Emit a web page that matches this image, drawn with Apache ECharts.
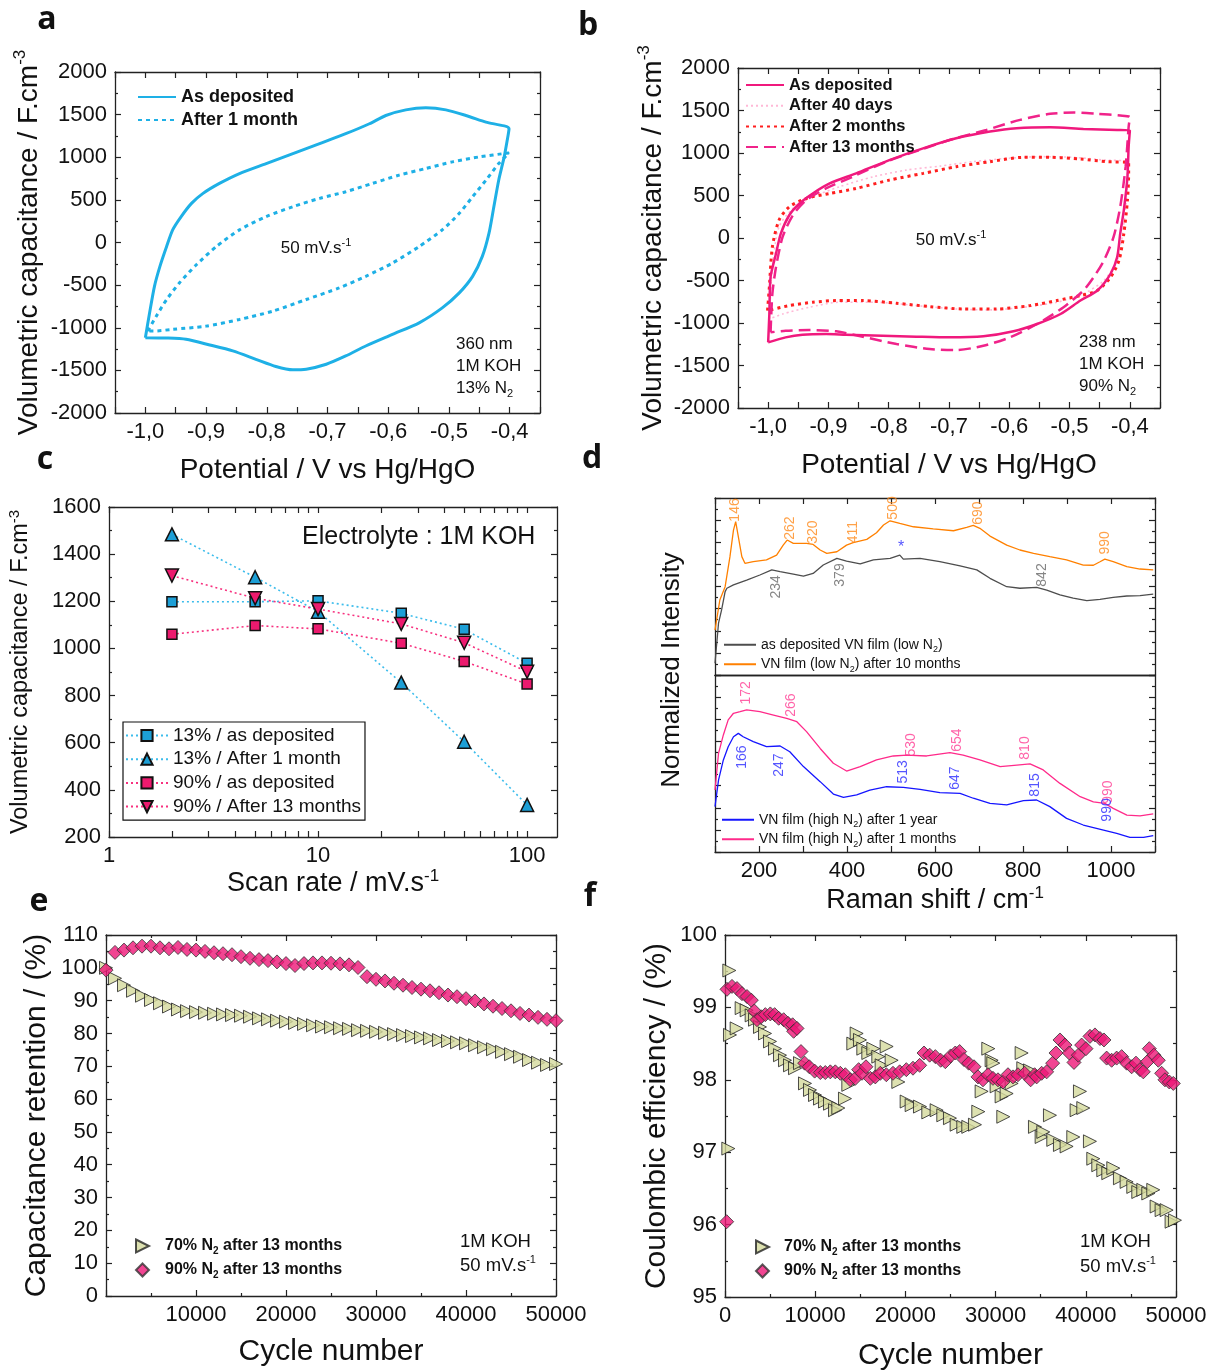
<!DOCTYPE html>
<html>
<head>
<meta charset="utf-8">
<script src="https://cdn.jsdelivr.net/npm/echarts@6.0.0/dist/echarts.min.js"></script>
<style>
  html, body { margin: 0; padding: 0; background: #fff; }
  #main { width: 1210px; height: 1372px; }
</style>
</head>
<body>
<div id="main"></div>
<script>
// ---- panel a : CV, 13% N2 (potential V, capacitance F/cm3)
var cvA_asDeposited = [[-1.0,-1117],[-0.993,-825],[-0.985,-514],[-0.976,-280],[-0.965,-47],[-0.955,148],[-0.941,304],[-0.924,459],[-0.905,576],[-0.878,693],[-0.845,809],[-0.801,926],[-0.757,1043],[-0.713,1160],[-0.670,1276],[-0.631,1393],[-0.604,1490],[-0.571,1556],[-0.538,1580],[-0.505,1556],[-0.472,1490],[-0.439,1412],[-0.401,1335],[-0.404,1198],[-0.409,1004],[-0.418,731],[-0.426,420],[-0.434,109],[-0.445,-163],[-0.461,-397],[-0.483,-591],[-0.511,-767],[-0.549,-942],[-0.593,-1078],[-0.637,-1214],[-0.670,-1331],[-0.702,-1428],[-0.735,-1486],[-0.757,-1494],[-0.785,-1455],[-0.818,-1370],[-0.856,-1272],[-0.894,-1202],[-0.933,-1136],[-0.965,-1121],[-1.0,-1117]];
var cvA_1month = [[-0.996,-1039],[-0.982,-864],[-0.965,-669],[-0.944,-475],[-0.916,-261],[-0.883,-47],[-0.845,148],[-0.801,304],[-0.757,420],[-0.713,518],[-0.670,595],[-0.626,693],[-0.582,790],[-0.538,868],[-0.494,946],[-0.450,1004],[-0.401,1051],[-0.418,926],[-0.439,731],[-0.461,537],[-0.483,342],[-0.511,148],[-0.549,-47],[-0.593,-241],[-0.637,-397],[-0.681,-533],[-0.735,-669],[-0.790,-805],[-0.845,-903],[-0.900,-981],[-0.955,-1019],[-0.987,-1039],[-0.996,-1039]];

// ---- panel b : CV, 90% N2
var cvB_asDeposited = [[-1.0,-1228],[-0.998,-894],[-0.996,-461],[-0.987,-185],[-0.979,51],[-0.965,268],[-0.948,406],[-0.926,524],[-0.898,642],[-0.854,760],[-0.799,917],[-0.743,1055],[-0.688,1173],[-0.632,1252],[-0.588,1291],[-0.532,1303],[-0.477,1283],[-0.421,1272],[-0.400,1264],[-0.402,1075],[-0.404,720],[-0.410,327],[-0.416,51],[-0.421,-224],[-0.432,-421],[-0.454,-618],[-0.482,-736],[-0.515,-894],[-0.554,-1012],[-0.593,-1098],[-0.643,-1157],[-0.699,-1169],[-0.754,-1161],[-0.810,-1150],[-0.871,-1138],[-0.904,-1130],[-0.943,-1138],[-0.971,-1169],[-1.0,-1228]];
var cvB_40days = [[-0.998,-953],[-0.993,-343],[-0.982,130],[-0.959,346],[-0.926,484],[-0.882,602],[-0.826,720],[-0.771,799],[-0.715,846],[-0.660,898],[-0.604,937],[-0.549,957],[-0.493,949],[-0.443,917],[-0.404,898],[-0.405,524],[-0.412,51],[-0.421,-264],[-0.443,-500],[-0.477,-657],[-0.521,-756],[-0.576,-815],[-0.632,-846],[-0.688,-835],[-0.754,-795],[-0.821,-756],[-0.882,-756],[-0.932,-815],[-0.976,-894],[-0.998,-953]];
var cvB_2months = [[-1.001,-854],[-0.998,-579],[-0.993,-106],[-0.982,209],[-0.965,366],[-0.937,465],[-0.898,524],[-0.854,583],[-0.799,681],[-0.743,760],[-0.688,839],[-0.632,898],[-0.577,949],[-0.532,949],[-0.482,929],[-0.438,898],[-0.402,886],[-0.402,760],[-0.404,445],[-0.410,51],[-0.418,-264],[-0.432,-461],[-0.454,-618],[-0.482,-677],[-0.521,-736],[-0.565,-795],[-0.621,-835],[-0.676,-835],[-0.732,-807],[-0.787,-768],[-0.843,-736],[-0.887,-736],[-0.926,-756],[-0.965,-795],[-1.001,-854]];
var cvB_13months = [[-0.996,-1110],[-0.993,-657],[-0.987,-343],[-0.976,12],[-0.959,268],[-0.937,445],[-0.904,583],[-0.860,720],[-0.804,898],[-0.749,1035],[-0.693,1165],[-0.638,1272],[-0.582,1390],[-0.532,1461],[-0.493,1476],[-0.454,1461],[-0.416,1441],[-0.400,1421],[-0.402,1311],[-0.407,839],[-0.416,366],[-0.427,12],[-0.443,-264],[-0.460,-461],[-0.477,-618],[-0.510,-815],[-0.554,-1012],[-0.599,-1169],[-0.643,-1268],[-0.688,-1319],[-0.732,-1307],[-0.787,-1248],[-0.843,-1161],[-0.887,-1098],[-0.932,-1083],[-0.971,-1091],[-0.996,-1110]];

// ---- panel c : capacitance vs scan rate
var scanRates = [2, 5, 10, 25, 50, 100];
var cap13Deposited = [1198, 1198, 1202, 1149, 1081, 937];
var cap13Month = [1484, 1302, 1156, 855, 604, 336];
var cap90Deposited = [1060, 1097, 1083, 1022, 945, 849];
var cap90Months = [1309, 1213, 1167, 1104, 1024, 901];

// ---- panel d : Raman (shift cm-1, normalized intensity)
var ramanGray = [[100,0.53],[108,2.34],[115,2.94],[123,3.77],[127,3.92],[142,4.07],[172,4.29],[202,4.52],[229,4.75],[248,4.67],[278,4.56],[301,4.47],[323,4.59],[346,4.97],[377,5.27],[399,5.15],[430,5.02],[460,5.20],[498,5.27],[520,5.42],[528,5.24],[566,5.27],[611,5.12],[657,4.93],[695,4.75],[725,4.37],[763,3.99],[793,3.92],[831,3.96],[854,3.84],[884,3.62],[914,3.47],[945,3.36],[975,3.42],[1005,3.51],[1036,3.57],[1066,3.59],[1096,3.66]];
var ramanOrange = [[100,2.03],[111,3.39],[123,3.99],[134,5.35],[142,6.55],[147,6.93],[153,6.25],[161,5.35],[168,5.05],[187,5.12],[217,5.20],[240,5.42],[255,5.87],[264,6.10],[278,5.95],[308,5.95],[323,5.90],[339,5.65],[354,5.50],[377,5.57],[399,5.87],[414,5.98],[445,6.13],[467,6.43],[483,6.78],[498,6.97],[520,6.85],[551,6.70],[596,6.60],[642,6.52],[672,6.67],[687,6.76],[702,6.63],[725,6.28],[763,5.87],[793,5.65],[824,5.50],[861,5.35],[899,5.20],[937,4.97],[960,4.96],[975,5.12],[986,5.24],[1005,5.12],[1036,4.90],[1066,4.79],[1096,4.75]];
var ramanBlue = [[100,2.05],[108,3.25],[119,4.16],[130,4.76],[142,5.21],[153,5.36],[164,5.21],[187,4.99],[217,4.76],[248,4.79],[270,4.53],[301,3.86],[339,3.18],[369,2.62],[392,2.47],[422,2.58],[452,2.80],[490,2.95],[528,2.92],[566,2.83],[611,2.68],[657,2.65],[687,2.43],[725,2.20],[763,2.13],[801,2.32],[831,2.35],[861,2.05],[899,1.52],[937,1.22],[983,0.99],[1013,0.84],[1043,0.66],[1074,0.66],[1096,0.74]];
var ramanPink = [[100,2.80],[108,4.46],[119,5.29],[130,5.97],[142,6.27],[157,6.34],[172,6.42],[202,6.34],[233,6.19],[263,6.04],[286,5.89],[308,5.44],[339,4.68],[369,4.01],[399,3.66],[430,3.86],[467,4.16],[505,4.34],[536,4.38],[581,4.34],[634,4.49],[664,4.38],[702,4.16],[748,3.86],[786,3.93],[816,3.98],[846,3.71],[884,3.10],[930,2.50],[960,2.27],[986,2.20],[1005,1.97],[1036,1.67],[1066,1.63],[1096,1.72]];
var peaksOrange = [['146',145,7.46],['262',270,6.64],['320',323,6.46],['411',414,6.46],['500',505,7.55],['690',698,7.32],['990',986,5.97]];
var peaksGray = [['234',239,3.98],['379',384,4.52],['842',843,4.52]];
var peaksPink = [['172',170,7.19],['266',273,6.64],['530',545,4.84],['654',650,5.06],['810',805,4.70],['990',993,2.71]];
var peaksBlue = [['166',161,4.29],['247',245,3.93],['513',527,3.62],['647',645,3.34],['815',827,3.03],['990',991,1.90]];

// ---- panel e : capacitance retention (%)
var retentionCycles = [0,1000,2000,3000,4000,5000,6000,7000,8000,9000,10000,11000,12000,13000,14000,15000,16000,17000,18000,19000,20000,21000,22000,23000,24000,25000,26000,27000,28000,29000,30000,31000,32000,33000,34000,35000,36000,37000,38000,39000,40000,41000,42000,43000,44000,45000,46000,47000,48000,49000,50000];
var retention70 = [100.0,96.8,94.7,93.0,91.5,90.2,89.2,88.2,87.3,86.8,86.5,86.3,86.0,85.8,85.6,85.4,85.1,84.6,84.3,83.9,83.6,83.2,82.9,82.5,82.1,81.9,81.6,81.4,81.0,80.8,80.5,80.2,79.8,79.5,79.2,78.8,78.5,78.0,77.7,77.3,77.0,76.4,75.8,75.2,74.4,73.7,72.9,71.9,71.1,70.4,70.7];
var retention90 = [99.3,104.7,105.4,106.1,106.6,106.6,106.1,105.8,106.2,105.6,105.4,105.0,104.6,104.3,104.0,103.4,102.9,102.5,102.2,101.8,101.3,100.7,101.3,101.5,101.5,101.4,101.2,100.9,100.1,97.3,96.5,96.0,95.3,94.7,94.0,93.5,93.0,92.4,91.7,91.2,90.6,89.9,89.0,88.3,87.6,86.9,86.1,85.6,84.9,84.3,83.9];

// ---- panel f : coulombic efficiency (%) [cycle, value]
var coulombic70 = [[369,97.05],[480,99.51],[554,98.62],[1293,98.71],[1847,98.99],[2401,98.96],[2956,98.89],[3325,98.83],[3880,98.73],[4434,98.64],[4988,98.53],[5543,98.43],[6097,98.34],[6651,98.27],[7206,98.20],[7760,98.16],[8314,98.23],[8868,97.95],[9423,97.86],[9977,97.79],[10531,97.74],[11085,97.70],[11640,97.67],[12194,97.58],[12563,97.61],[13302,97.74],[13672,97.93],[14226,98.50],[14595,98.64],[14965,98.55],[15334,98.43],[15889,98.37],[16443,98.43],[16997,98.32],[17367,98.20],[17921,98.46],[18476,98.27],[19215,97.97],[20138,97.70],[20692,97.65],[21616,97.63],[22540,97.55],[23463,97.58],[24202,97.51],[24941,97.47],[25680,97.38],[26419,97.35],[26973,97.35],[27712,97.38],[28082,97.56],[28452,97.84],[29191,98.43],[29560,98.27],[29745,98.23],[30115,97.91],[30669,97.77],[30854,97.49],[31223,97.81],[31778,97.95],[32886,98.37],[33071,98.16],[33810,98.13],[34364,97.35],[35103,97.21],[35287,97.28],[36026,97.51],[36395,97.17],[37134,97.10],[37873,97.08],[38613,97.21],[38982,97.58],[39352,97.84],[39721,97.61],[40460,97.15],[40830,96.91],[41385,96.82],[41939,96.75],[42493,96.71],[43047,96.78],[43786,96.64],[44525,96.59],[45264,96.52],[45819,96.45],[46373,96.48],[46927,96.43],[47481,96.48],[47851,96.25],[48405,96.20],[48959,96.20],[49513,96.04],[49883,96.06]];
var coulombic90 = [[185,96.04],[221,99.25],[775,99.29],[1330,99.26],[1884,99.19],[2438,99.15],[2918,99.10],[3251,98.95],[3547,98.83],[4027,98.87],[4470,98.90],[5025,98.91],[5505,98.90],[5949,98.85],[6503,98.83],[6983,98.78],[7500,98.76],[7611,98.67],[7981,98.71],[8424,98.39],[8831,98.23],[9348,98.18],[9939,98.12],[10567,98.10],[11121,98.10],[11675,98.11],[12230,98.11],[12784,98.09],[13339,98.07],[13893,98.00],[14447,98.02],[14817,98.14],[15187,98.09],[15630,98.18],[16110,98.02],[16664,98.04],[17219,98.09],[17886,98.07],[18625,98.09],[19364,98.11],[20103,98.14],[20841,98.16],[21581,98.20],[22061,98.37],[22689,98.34],[23318,98.32],[23909,98.27],[24426,98.25],[25017,98.33],[25535,98.37],[26015,98.39],[26495,98.28],[27013,98.23],[27604,98.18],[28047,98.04],[28602,98.00],[29156,98.07],[29709,98.02],[30264,98.00],[30816,97.97],[31372,98.07],[31927,98.04],[32481,98.07],[33220,98.09],[33885,98.00],[34328,98.07],[34551,98.04],[35105,98.09],[35660,98.11],[36325,98.23],[36694,98.37],[37138,98.55],[37692,98.48],[38172,98.37],[38690,98.24],[39170,98.34],[39539,98.48],[40020,98.43],[40463,98.60],[41017,98.62],[41572,98.57],[42015,98.55],[42311,98.30],[42866,98.27],[43420,98.30],[43973,98.32],[44528,98.23],[45083,98.18],[45562,98.23],[46006,98.14],[46375,98.11],[46819,98.25],[47040,98.43],[47557,98.34],[48038,98.27],[48407,98.09],[48777,98.00],[49257,97.97],[49700,97.95]];

var FONT = 'Arial';
var AX = '#222';
var SUP = { fontSize: 17, verticalAlign: 'top', fontFamily: FONT, color: '#111' };
var RIGHT_TRI = 'path://M0,0L12,6L0,12Z';

function merge(a, b) {
  var out = {};
  [a, b].forEach(function (src) {
    Object.keys(src || {}).forEach(function (k) {
      var v = src[k];
      if (v && typeof v === 'object' && !Array.isArray(v) && out[k] && typeof out[k] === 'object' && !Array.isArray(out[k])) {
        out[k] = merge(out[k], v);
      } else {
        out[k] = v;
      }
    });
  });
  return out;
}

var baseAxis = {
  type: 'value',
  nameLocation: 'middle',
  axisLine: { show: true, onZero: false, lineStyle: { color: AX, width: 1.3 } },
  axisTick: { show: true, inside: true, length: 6, lineStyle: { color: AX, width: 1.2 } },
  minorTick: { show: false, splitNumber: 2, length: 3, lineStyle: { color: AX, width: 1.2 } },
  splitLine: { show: false },
  axisLabel: { show: true, fontSize: 22, color: '#111', fontFamily: FONT, margin: 8,
    formatter: function (v) { return String(v); } },
  nameTextStyle: { fontSize: 28, lineHeight: 34, color: '#111', fontFamily: FONT, rich: { sup: SUP } }
};
var xAxes = [], yAxes = [];
function addX(o) { xAxes.push(merge(baseAxis, o)); return xAxes.length - 1; }
function addY(o) { yAxes.push(merge(baseAxis, o)); return yAxes.length - 1; }
// an axis pair on both sides of a grid (ticks mirrored, labels only on the main side)
function frameX(gi, o) {
  var i = addX(merge(o, { gridIndex: gi }));
  addX(merge(o, { gridIndex: gi, position: 'top', name: '', axisLabel: { show: false } }));
  return i;
}
function frameY(gi, o) {
  var i = addY(merge(o, { gridIndex: gi }));
  addY(merge(o, { gridIndex: gi, position: 'right', name: '', axisLabel: { show: false } }));
  return i;
}

function commaFmt(v) {
  var k = Math.round(v * 100);
  return k % 10 === 0 ? (k / 100).toFixed(1).replace('.', ',') : '';
}

var grids = [
  { left: 115, top: 72, width: 425, height: 341 },   // a
  { left: 738, top: 68, width: 422, height: 340 },   // b
  { left: 109, top: 507, width: 448, height: 330 },  // c
  { left: 715, top: 498, width: 440, height: 177 },  // d upper
  { left: 715, top: 675, width: 440, height: 177 },  // d lower
  { left: 106, top: 935, width: 450, height: 361 },  // e
  { left: 725, top: 935, width: 451, height: 362 }   // f
].map(function (g) { g.outerBoundsMode = 'none'; g.containLabel = false; return g; });

// a
var cvX = { min: -1.05, max: -0.35, interval: 0.05, axisLabel: { formatter: commaFmt } };
var cvY = { min: -2000, max: 2000, interval: 500, minorTick: { show: true } };
var aX = frameX(0, merge(cvX, { name: 'Potential / V vs Hg/HgO', nameGap: 40 }));
var aY = frameY(0, merge(cvY, { name: 'Volumetric capacitance / F.cm{sup|-3}', nameGap: 69, nameRotate: 90 }));
// b
var bX = frameX(1, merge(cvX, { name: 'Potential / V vs Hg/HgO', nameGap: 40 }));
var bY = frameY(1, merge(cvY, { name: 'Volumetric capacitance / F.cm{sup|-3}', nameGap: 64, nameRotate: 90 }));
// c
var cX = frameX(2, {
  type: 'log', logBase: 10, min: 1, max: 139,
  axisTick: { customValues: [1,2,3,4,5,6,7,8,9,10,20,30,40,50,60,70,80,90,100] },
  axisLabel: { customValues: [1, 10, 100] },
  name: 'Scan rate / mV.s{sup|-1}', nameGap: 24,
  nameTextStyle: { fontSize: 27, lineHeight: 32 }
});
var cY = frameY(2, {
  min: 200, max: 1600, interval: 200, minorTick: { show: true },
  name: 'Volumetric capacitance / F.cm{sup|-3}', nameGap: 74, nameRotate: 90,
  nameTextStyle: { fontSize: 23.5, lineHeight: 28, rich: { sup: { fontSize: 15 } } }
});
// d
var ramanX = { min: 100, max: 1100, interval: 100,
  axisLabel: { formatter: function (v) { var r = Math.round(v); return r % 200 === 0 ? String(r) : ''; } } };
var ramanY = { min: 0, max: 8, interval: 1, minorTick: { show: true }, axisLabel: { show: false } };
var dUX = addX(merge(ramanX, { gridIndex: 3, axisTick: { show: false }, axisLabel: { show: false } }));
addX(merge(ramanX, { gridIndex: 3, position: 'top', axisLabel: { show: false } }));
var dUY = frameY(3, ramanY);
var dLX = addX(merge(ramanX, { gridIndex: 4, name: 'Raman shift / cm{sup|-1}', nameGap: 33, nameTextStyle: { fontSize: 27, lineHeight: 32 } }));
addX(merge(ramanX, { gridIndex: 4, position: 'top', axisTick: { show: false }, axisLabel: { show: false } }));
var dLY = frameY(4, ramanY);
// e
var eX = frameX(5, {
  min: 0, max: 50000, interval: 10000, minorTick: { show: true },
  axisLabel: { formatter: function (v) { return v === 0 ? '' : String(v); } },
  name: 'Cycle number', nameGap: 38, nameTextStyle: { fontSize: 30, lineHeight: 36 }
});
var eY = frameY(5, {
  min: 0, max: 110, interval: 10, minorTick: { show: true },
  name: 'Capacitance retention / (%)', nameGap: 51, nameRotate: 90,
  nameTextStyle: { fontSize: 30, lineHeight: 36 }
});
// f
var fX = frameX(6, {
  min: 0, max: 50000, interval: 10000, minorTick: { show: true },
  name: 'Cycle number', nameGap: 41, nameTextStyle: { fontSize: 30, lineHeight: 36 }
});
var fY = frameY(6, {
  min: 95, max: 100, interval: 1, minorTick: { show: true },
  name: 'Coulombic efficiency / (%)', nameGap: 50, nameRotate: 90,
  nameTextStyle: { fontSize: 30, lineHeight: 36 }
});

function cvLine(name, data, xi, yi, color, type, width) {
  return { name: name, type: 'line', data: data, xAxisIndex: xi, yAxisIndex: yi,
    symbol: 'none', smooth: 0.25, lineStyle: { color: color, width: width, type: type },
    itemStyle: { color: color } };
}
function pairs(xs, ys) { return xs.map(function (x, i) { return [x, ys[i]]; }); }
function rateLine(name, ys, lineColor, fill, symbol, rot) {
  return { name: name, type: 'line', data: pairs(scanRates, ys), xAxisIndex: cX, yAxisIndex: cY,
    symbol: symbol, symbolSize: symbol === 'rect' ? 10 : 13, symbolRotate: rot || 0,
    lineStyle: { color: lineColor, width: 1.6, type: [2, 3] },
    itemStyle: { color: fill, borderColor: '#111', borderWidth: 1.5 }, z: 3 };
}
function spectrum(name, data, xi, yi, color) {
  return { name: name, type: 'line', data: data, xAxisIndex: xi, yAxisIndex: yi,
    symbol: 'none', lineStyle: { color: color, width: 1.3 }, itemStyle: { color: color } };
}
function peakLabels(list, xi, yi, color) {
  return { type: 'scatter', xAxisIndex: xi, yAxisIndex: yi, symbolSize: 1, silent: true, z: 5, clip: false,
    itemStyle: { color: 'rgba(0,0,0,0)' },
    label: { show: true, position: 'inside', rotate: 90, formatter: '{b}', fontSize: 14, color: color, fontFamily: FONT },
    data: list.map(function (p) { return { name: p[0], value: [p[1], p[2]] }; }) };
}
function cycleScatter(name, data, xi, yi, kind) {
  var tri = kind === 'tri';
  return { name: name, type: 'scatter', data: data, xAxisIndex: xi, yAxisIndex: yi,
    symbol: tri ? 'triangle' : 'diamond', symbolRotate: tri ? -90 : 0, symbolSize: tri ? 13 : 14,
    itemStyle: tri ? { color: '#d5d99c', borderColor: '#222', borderWidth: 1 }
                   : { color: '#ee1677', borderColor: '#333', borderWidth: 1 } };
}

var NAMES = {
  aDep: 'As deposited', aMonth: 'After 1 month',
  bDep: 'As deposited', b40: 'After 40 days', b2m: 'After 2 months', b13m: 'After 13 months',
  c13d: '13% / as deposited', c13m: '13% / After 1 month', c90d: '90% / as deposited', c90m: '90% / After 13 months',
  dGray: 'as deposited VN film (low N{s|2})', dOrange: 'VN film (low N{s|2}) after 10 months',
  dBlue: 'VN film (high N{s|2}) after 1 year', dPink: 'VN film (high N{s|2}) after 1 months',
  e70: '70% N{s|2} after 13 months', e90: '90% N{s|2} after 13 months',
  f70: '70% N{s|2} after 13 months', f90: '90% N{s|2} after 13 months'
};
function fmt(n) { return NAMES[n]; }

var series = [
  cvLine('aMonth', cvA_1month, aX, aY, '#1eb0e6', [4, 4], 3),
  cvLine('aDep', cvA_asDeposited, aX, aY, '#1eb0e6', 'solid', 3),
  cvLine('b40', cvB_40days, bX, bY, '#ffb8d6', [2, 3], 1.6),
  cvLine('b2m', cvB_2months, bX, bY, '#ff1f1f', [3, 4], 3),
  cvLine('b13m', cvB_13months, bX, bY, '#f0238a', [12, 6], 2.5),
  cvLine('bDep', cvB_asDeposited, bX, bY, '#f0197d', 'solid', 2.5),
  rateLine('c13d', cap13Deposited, '#3dbdec', '#1d9fd6', 'rect'),
  rateLine('c13m', cap13Month, '#3dbdec', '#1d9fd6', 'triangle'),
  rateLine('c90d', cap90Deposited, '#f7317f', '#ec1a6e', 'rect'),
  rateLine('c90m', cap90Months, '#f7317f', '#ec1a6e', 'triangle', 180),
  spectrum('dGray', ramanGray, dUX, dUY, '#4d4d4d'),
  spectrum('dOrange', ramanOrange, dUX, dUY, '#ff8000'),
  spectrum('dBlue', ramanBlue, dLX, dLY, '#1515ff'),
  spectrum('dPink', ramanPink, dLX, dLY, '#ff2a8a'),
  peakLabels(peaksOrange, dUX, dUY, '#ff8a1a'),
  peakLabels(peaksGray, dUX, dUY, '#666666'),
  peakLabels(peaksPink, dLX, dLY, '#ff3d94'),
  peakLabels(peaksBlue, dLX, dLY, '#2a2aff'),
  { type: 'scatter', xAxisIndex: dUX, yAxisIndex: dUY, symbolSize: 1, silent: true, z: 5,
    itemStyle: { color: 'rgba(0,0,0,0)' },
    label: { show: true, position: 'inside', formatter: '*', fontSize: 16, color: '#2a2aff', fontFamily: FONT },
    data: [[523, 5.78]] },
  cycleScatter('e70', pairs(retentionCycles, retention70), eX, eY, 'tri'),
  cycleScatter('e90', pairs(retentionCycles, retention90), eX, eY, 'dia'),
  cycleScatter('f70', coulombic70, fX, fY, 'tri'),
  cycleScatter('f90', coulombic90, fX, fY, 'dia')
];

var HIDE_DOT = { color: 'rgba(0,0,0,0)', borderWidth: 0, opacity: 0 };
var SUBL = { s: { fontSize: 9, verticalAlign: 'bottom', fontFamily: FONT } };
var SUBB = { s: { fontSize: 10, fontWeight: 'bold', verticalAlign: 'bottom', fontFamily: FONT } };
function legend(o, ts) {
  return merge({ orient: 'vertical', padding: 0, selectedMode: false, formatter: fmt,
    textStyle: merge({ color: '#111', fontFamily: FONT }, ts) }, o);
}
var legends = [
  legend({ data: ['aDep', 'aMonth'], left: 137, top: 87, itemWidth: 38, itemHeight: 14, itemGap: 3, itemStyle: HIDE_DOT },
         { fontSize: 18, fontWeight: 'bold', lineHeight: 20 }),
  legend({ data: ['bDep', 'b40', 'b2m', 'b13m'], left: 745, top: 76, itemWidth: 38, itemHeight: 14, itemGap: 2.7, itemStyle: HIDE_DOT },
         { fontSize: 16.5, fontWeight: 'bold', lineHeight: 18 }),
  legend({ data: ['c13d', 'c13m', 'c90d', 'c90m'], left: 123, top: 722, itemWidth: 42, itemHeight: 14, itemGap: 2.7,
           padding: [3, 4, 3, 2], borderColor: '#111', borderWidth: 1.2 },
         { fontSize: 19, lineHeight: 21 }),
  legend({ data: ['dGray', 'dOrange'], left: 723, top: 635, itemWidth: 32, itemHeight: 10, itemGap: 0, itemStyle: HIDE_DOT },
         { fontSize: 14, lineHeight: 19.5, rich: SUBL }),
  legend({ data: ['dBlue', 'dPink'], left: 721, top: 810, itemWidth: 32, itemHeight: 10, itemGap: 0, itemStyle: HIDE_DOT },
         { fontSize: 14, lineHeight: 19.5, rich: SUBL }),
  legend({ data: [{ name: 'e70', icon: RIGHT_TRI }, { name: 'e90', icon: 'diamond' }],
           left: 135, top: 1236, itemWidth: 13, itemHeight: 13, itemGap: 4 },
         { fontSize: 16, fontWeight: 'bold', lineHeight: 20, padding: [0, 0, 0, 11], rich: SUBB }),
  legend({ data: [{ name: 'f70', icon: RIGHT_TRI }, { name: 'f90', icon: 'diamond' }],
           left: 755, top: 1237, itemWidth: 13, itemHeight: 13, itemGap: 4 },
         { fontSize: 16, fontWeight: 'bold', lineHeight: 20, padding: [0, 0, 0, 10], rich: SUBB })
];

function note(x, y, text, size, opts) {
  opts = opts || {};
  return { type: 'text', x: x, y: y, rotation: opts.rotation || 0, z: 10,
    style: { text: text, fontSize: size, fontFamily: opts.family || FONT, fontWeight: opts.weight || 'normal',
      fill: '#111', align: opts.align || 'left', verticalAlign: 'middle', lineHeight: Math.round(size * 1.3),
      rich: {
        sup: { fontSize: Math.round(size * 0.62), verticalAlign: 'top', fontFamily: FONT, fill: '#111' },
        sub: { fontSize: Math.round(size * 0.62), verticalAlign: 'bottom', fontFamily: FONT, fill: '#111' }
      } } };
}
var LETTER = { weight: 'bold', align: 'center', family: '"Open Sans", Arial, sans-serif' };
var graphics = [
  note(47, 20, 'a', 32, LETTER), note(588, 26, 'b', 32, LETTER), note(45, 460, 'c', 32, LETTER),
  note(592, 459, 'd', 32, LETTER), note(39, 902, 'e', 32, LETTER), note(590, 897, 'f', 32, LETTER),
  note(316, 248, '50 mV.s{sup|-1}', 17, { align: 'center' }),
  note(456, 344, '360 nm', 17), note(456, 366, '1M KOH', 17), note(456, 388, '13% N{sub|2}', 17),
  note(951, 240, '50 mV.s{sup|-1}', 17, { align: 'center' }),
  note(1079, 342, '238 nm', 17), note(1079, 364, '1M KOH', 17), note(1079, 386, '90% N{sub|2}', 17),
  note(302, 537, 'Electrolyte : 1M KOH', 25),
  note(672, 670, 'Normalized Intensity', 26, { align: 'center', rotation: Math.PI / 2 }),
  note(460, 1242, '1M KOH', 18.5), note(460, 1266, '50 mV.s{sup|-1}', 18.5),
  note(1080, 1242, '1M KOH', 18.5), note(1080, 1267, '50 mV.s{sup|-1}', 18.5)
];

var chart = echarts.init(document.getElementById('main'), null, { renderer: 'canvas' });
chart.setOption({
  animation: false,
  backgroundColor: '#fff',
  textStyle: { fontFamily: FONT },
  grid: grids,
  xAxis: xAxes,
  yAxis: yAxes,
  legend: legends,
  series: series,
  graphic: { elements: graphics }
});
</script>
</body>
</html>
